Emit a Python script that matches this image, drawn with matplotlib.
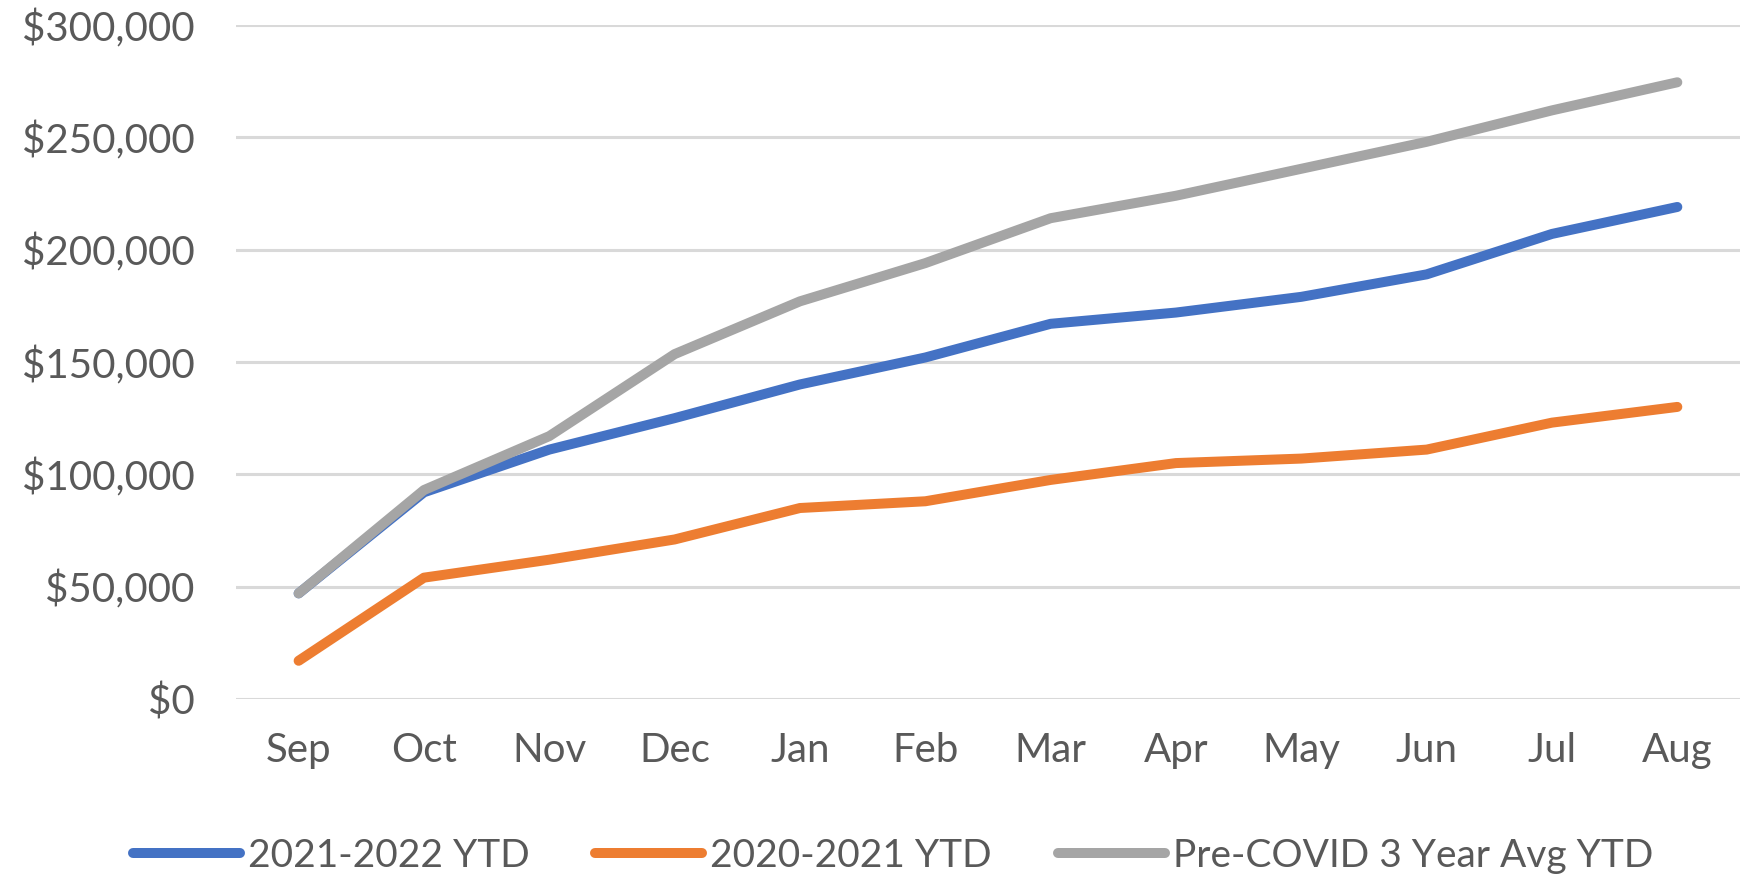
import matplotlib
matplotlib.use("Agg")
import matplotlib.pyplot as plt
from matplotlib.ticker import FuncFormatter

months = ["Sep", "Oct", "Nov", "Dec", "Jan", "Feb", "Mar", "Apr", "May", "Jun", "Jul", "Aug"]
ytd_2122 = [47000, 92000, 111000, 125000, 140000, 152000, 167000, 172000, 179000, 189000, 207000, 219000]
ytd_2021 = [17000, 54000, 62000, 71000, 85000, 88000, 97500, 105000, 107000, 111000, 123000, 130000]
pre_covid = [47000, 93000, 117000, 153500, 177000, 194000, 214000, 224000, 236000, 248000, 262000, 274500]
labels = ["2021-2022 YTD", "2020-2021 YTD", "Pre-COVID 3 Year Avg YTD"]

txt = "#595959"
plt.rcParams["font.family"] = ["Lato", "DejaVu Sans"]

fig = plt.figure(figsize=(17.44, 8.77), dpi=100)
ax = fig.add_axes([0.1353, 0.2030, 0.8624, 0.7685])

x = range(len(months))
lw = 7.2
ax.plot(x, ytd_2122, color="#4472C4", lw=lw, solid_capstyle="round", solid_joinstyle="round", label=labels[0], zorder=3)
ax.plot(x, ytd_2021, color="#ED7D31", lw=lw, solid_capstyle="round", solid_joinstyle="round", label=labels[1], zorder=3)
ax.plot(x, pre_covid, color="#A5A5A5", lw=lw, solid_capstyle="round", solid_joinstyle="round", label=labels[2], zorder=4)

ax.set_xlim(-0.5, len(months) - 0.5)
ax.set_ylim(0, 300000)
ax.set_yticks(range(0, 300001, 50000))
ax.yaxis.set_major_formatter(FuncFormatter(lambda v, p: "${:,.0f}".format(v)))
ax.set_xticks(list(x))
ax.set_xticklabels(months)
ax.grid(axis="y", color="#D9D9D9", lw=2.2, zorder=0)
ax.set_axisbelow(True)
for s in ax.spines.values():
    s.set_visible(False)
ax.tick_params(axis="both", length=0, labelsize=29, labelcolor=txt)
ax.tick_params(axis="y", pad=30)
ax.tick_params(axis="x", pad=24)

leg = fig.legend(loc="center", bbox_to_anchor=(0.512, 0.024), ncol=3, frameon=False,
                 fontsize=28, handlelength=2.75, handletextpad=0.2, columnspacing=1.7,
                 labelcolor=txt, borderpad=0)

fig.savefig("out.png", dpi=100)
